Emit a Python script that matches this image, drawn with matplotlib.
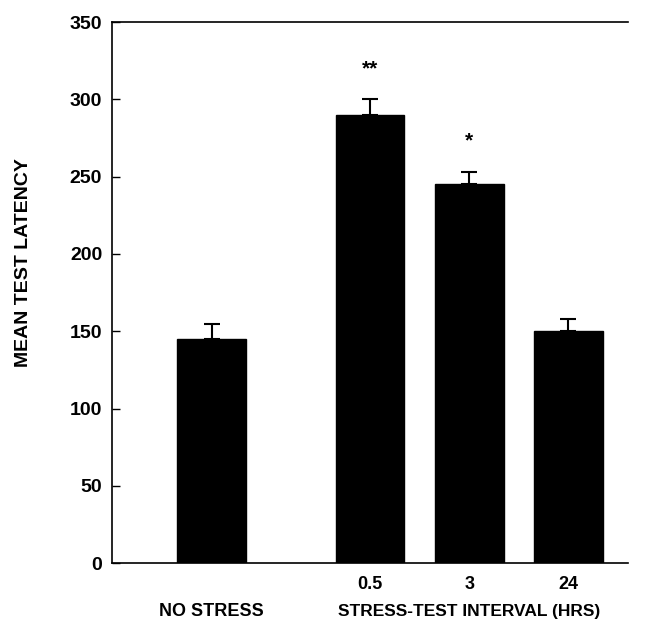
import matplotlib
matplotlib.use("Agg")
import matplotlib.pyplot as plt

# data
groups = ["NO STRESS", "0.5", "3", "24"]
means = [145, 290, 245, 150]
errors = [10, 10, 8, 8]
stars = ["", "**", "*", ""]
tick_labels = ["0.5", "3", "24"]

plt.rcParams['font.family'] = ['Liberation Sans', 'DejaVu Sans']
plt.rcParams['font.weight'] = 'bold'

fig = plt.figure(figsize=(6.45, 6.23), dpi=100)
ax = fig.add_axes([0.1736, 0.0963, 0.80, 0.868])

pos = [0, 1.6, 2.6, 3.6]
ax.bar(pos, means, width=0.69, color='black', edgecolor='black')
ax.errorbar(pos, means, yerr=[[0] * len(errors), errors], fmt='none',
            ecolor='black', elinewidth=1.5, capsize=6, capthick=1.5)

for x, m, e, s in zip(pos, means, errors, stars):
    if s:
        ax.text(x, m + e + 20, s, ha='center', va='center', fontsize=15, fontweight='bold')

ax.set_ylim(0, 350)
ax.set_xlim(-1.005, 4.2)
ax.set_yticks(range(0, 351, 50))
ax.tick_params(axis='y', direction='in', length=6, width=1, labelsize=14, pad=7)
ax.set_xticks(pos[1:])
ax.set_xticklabels(tick_labels, fontsize=13, fontweight='bold')
ax.tick_params(axis='x', length=0, pad=9)
ax.spines['right'].set_visible(False)
for sp in ['left', 'top', 'bottom']:
    ax.spines[sp].set_linewidth(1.2)

ax.set_ylabel("MEAN TEST LATENCY", fontsize=14, fontweight='bold')
ax.yaxis.set_label_coords(-0.155, 0.555)

ax.text(pos[0], -0.09, "NO STRESS", transform=ax.get_xaxis_transform(),
        ha='center', va='center', fontsize=13, fontweight='bold')
ax.text(pos[2], -0.09, "STRESS-TEST INTERVAL (HRS)", transform=ax.get_xaxis_transform(),
        ha='center', va='center', fontsize=12.5, fontweight='bold')

plt.savefig("out.png", dpi=100)
